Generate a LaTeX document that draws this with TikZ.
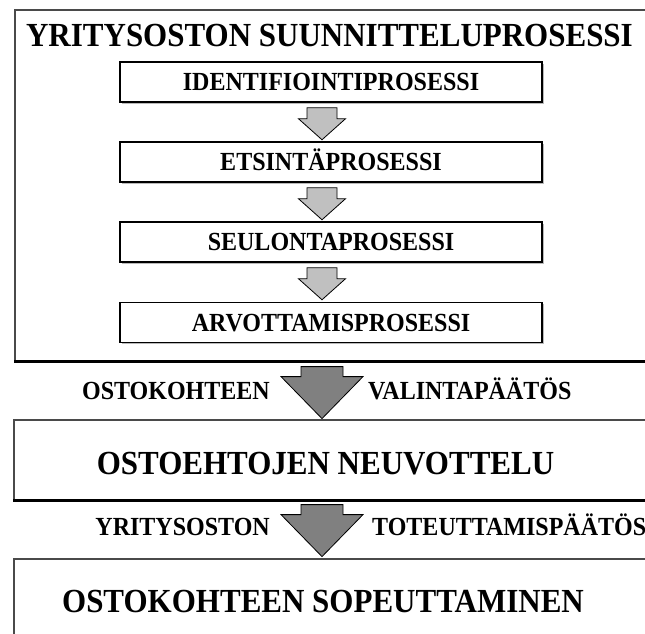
\documentclass[tikz,border=0pt]{standalone}
\usepackage{fontspec}
\setmainfont{Liberation Serif}[FakeStretch=0.92]
\usetikzlibrary{calc,shadows}

\definecolor{framegray}{HTML}{4A4A4A}
\definecolor{lightfill}{HTML}{C0C0C0}
\definecolor{darkfill}{HTML}{808080}

\tikzset{
  headfont/.style={font=\bfseries\fontsize{33.7pt}{33.7pt}\selectfont,
    inner sep=0pt, text height=22.3pt, text depth=0pt},
  labelfont/.style={font=\bfseries\fontsize{26.1pt}{26.1pt}\selectfont,
    inner sep=0pt, text height=17.3pt, text depth=0pt},
  stagebox/.style={labelfont, draw=black, line width=1.5pt, fill=white,
    minimum width=422pt, minimum height=40pt,
    drop shadow={shadow xshift=1.6pt, shadow yshift=-1.6pt,
      fill=gray!55, opacity=1}},
  frame/.style={draw=framegray, line width=1.6pt, inner sep=0pt,
    anchor=north west, minimum width=690pt},
  bottomrule/.style={draw=black, line width=3pt},
  arrowline/.style={draw=black, line width=0.8pt, line join=miter},
  smallarrow/.pic={
    \filldraw[arrowline, fill=lightfill]
      (-15,0) -- (15,0) -- (15,11) -- (23.5,11) -- (0,32)
      -- (-23.5,11) -- (-15,11) -- cycle;
  },
  bigarrow/.pic={
    \filldraw[arrowline, fill=darkfill]
      (-21,0) -- (21,0) -- (21,10) -- (41,10) -- (0,52)
      -- (-41,10) -- (-21,10) -- cycle;
  }
}

\begin{document}
\begin{tikzpicture}[x=1pt, y=-1pt]
  \useasboundingbox (0,0) rectangle (645,633);
  \clip (0,0) rectangle (645,633);
  \fill[white] (0,0) rectangle (645,633);

  % column of the block arrows
  \coordinate (col) at (322,0);

  % planning process frame
  \node[frame, minimum height=351pt] (plan) at (14,9) {};
  \draw[bottomrule] (plan.south west) -- (plan.south east);
  \node[headfont] (title) at (329.5,35) {YRITYSOSTON SUUNNITTELUPROSESSI};

  % sub-processes
  \node[stagebox] (s1) at (331,82)  {IDENTIFIOINTIPROSESSI};
  \node[stagebox] (s2) at (331,162) {ETSINTÄPROSESSI};
  \node[stagebox] (s3) at (331,242) {SEULONTAPROSESSI};
  \node[stagebox] (s4) at (331,322.5) {ARVOTTAMISPROSESSI};

  \pic at ($(col |- s1.south)+(0,5)$) {smallarrow};
  \pic at ($(col |- s2.south)+(0,5)$) {smallarrow};
  \pic at ($(col |- s3.south)+(0,5)$) {smallarrow};

  % selection decision
  \pic at ($(col |- plan.south)+(0,5)$) {bigarrow};
  \node[labelfont, anchor=east] (sel1) at (270,391) {OSTOKOHTEEN};
  \node[labelfont, anchor=west] (sel2) at (368,391) {VALINTAPÄÄTÖS};

  % negotiation
  \node[frame, minimum height=80pt] (neg) at (13,419) {};
  \draw[bottomrule] (neg.south west) -- (neg.south east);
  \node[headfont] (negtext) at (325.5,463) {OSTOEHTOJEN NEUVOTTELU};

  % execution decision
  \pic at ($(col |- neg.south)+(0,4)$) {bigarrow};
  \node[labelfont, anchor=east] (exe1) at (270,527) {YRITYSOSTON};
  \node[labelfont, anchor=west] (exe2) at (372,527) {TOTEUTTAMISPÄÄTÖS};

  % integration
  \node[frame, minimum height=120pt] (adapt) at (13,558) {};
  \node[headfont] (adapttext) at (323,601) {OSTOKOHTEEN SOPEUTTAMINEN};
\end{tikzpicture}
\end{document}
